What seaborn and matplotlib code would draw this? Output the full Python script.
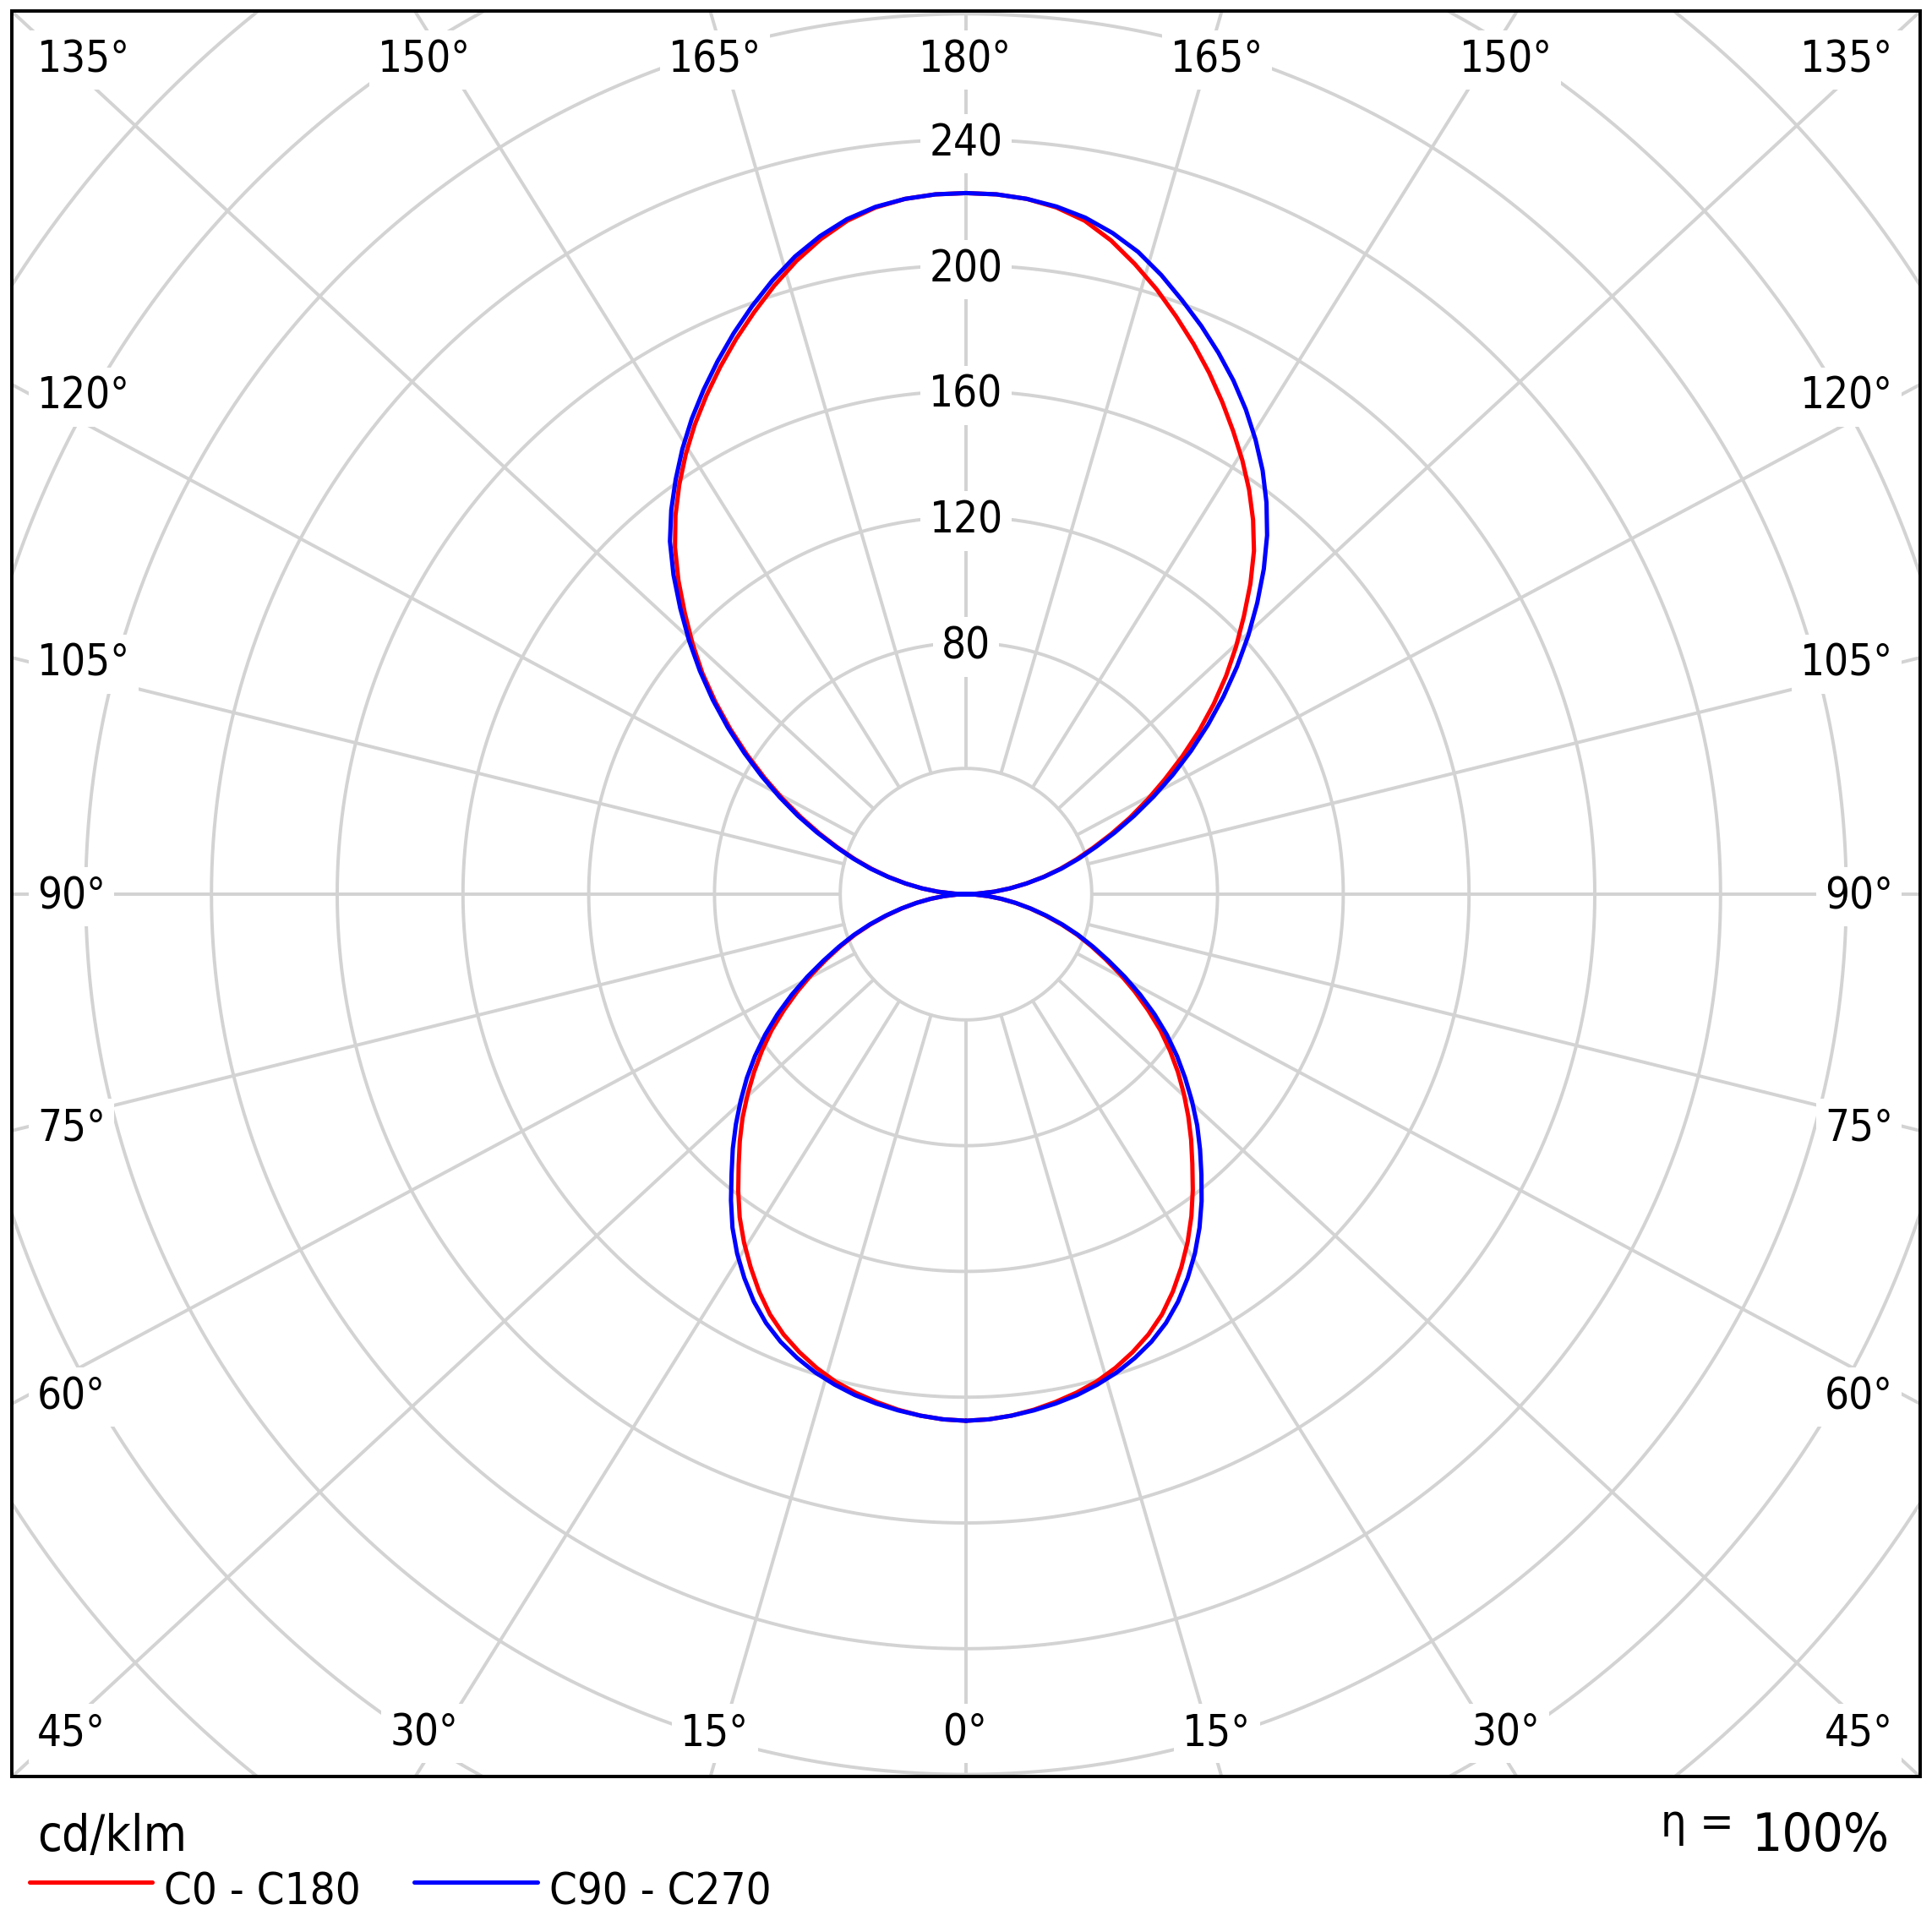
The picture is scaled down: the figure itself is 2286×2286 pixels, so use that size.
import numpy as np
import pandas as pd
import matplotlib.pyplot as plt
from matplotlib.patches import Rectangle
from matplotlib.lines import Line2D
from matplotlib import transforms
import seaborn as sns

sns.set_style('white')
plt.rcParams['font.family'] = ['DejaVu Sans']
plt.rcParams['font.stretch'] = 'condensed'
plt.rcParams['text.color'] = 'black'

# luminous intensity (cd/klm), gamma 0..180 in 2.5 degree steps
gamma = [i * 2.5 for i in range(73)]
c0 = [167.5, 167.2, 166.5, 165.4, 164, 162.4, 160.5, 158, 155, 151.6, 147.5, 142.5, 137, 131.2,
      125, 118.5, 112, 106, 100, 94, 88, 81.8, 75.5, 68.7, 62, 55.4, 49, 43.1, 37.5, 31.7,
      26, 20.8, 16, 11.3, 7, 3, 0,
      3.5, 9, 14.1, 19.5, 25.2, 31, 36.8, 43, 50, 57.5, 65.1, 73, 81.6, 90.5, 99.3, 108,
      116.5, 125, 133.9, 142.5, 150, 157, 163.6, 170, 176.5, 183, 189.3, 195.5, 201.7,
      207.5, 213, 217.5, 220.3, 222, 222.8, 223]
c180 = [167.5, 167.2, 166.5, 165.4, 164, 162.4, 160.5, 158, 155, 151.6, 147.5, 142.5, 137, 131.4,
        125.5, 119, 112.5, 106.5, 100.5, 94.2, 88, 81.8, 75.5, 68.7, 62, 55.4, 49, 43.1, 37.5, 31.7,
        26, 20.8, 16, 11.3, 7, 3, 0,
        3.5, 9, 14.1, 19.5, 25.1, 31, 37.1, 43.5, 50.5, 58, 65.8, 74, 82.6, 91.5, 100.5, 109.5,
        118, 126.5, 135.4, 144, 151.8, 159, 165.9, 172.5, 178.8, 185, 191.1, 197, 202.9,
        208.5, 213.4, 217.5, 220.3, 222, 222.8, 223]
c90 = [167.5, 167.2, 166.5, 165.6, 164.5, 163.2, 161.5, 159.5, 157, 154.1, 150.5, 146.1, 141, 135.5,
       129.5, 123.1, 116.5, 110.2, 104, 97.5, 91, 84.6, 78, 71.1, 64, 56.9, 50, 43.8, 38, 32.2,
       26.5, 21.1, 16, 11.3, 7, 3, 0,
       3.5, 9, 14.1, 19.5, 25.4, 31.5, 37.6, 44, 51.2, 59, 67.3, 76, 84.9, 94, 103.2, 112.5,
       121.8, 131, 140.2, 149, 157, 164.5, 171.4, 178, 184.2, 190, 195.6, 201, 206.5,
       211.5, 215.4, 218.5, 220.6, 222, 222.8, 223]
c270 = [167.5, 167.2, 166.5, 165.6, 164.5, 163.2, 161.5, 159.5, 157, 154.1, 150.5, 146.1, 141, 135.5,
        129.5, 122.8, 116, 109.8, 103.5, 97.2, 91, 84.6, 78, 71.1, 64, 56.9, 50, 43.8, 38, 32.2,
        26.5, 21.1, 16, 11.3, 7, 3, 0,
        3.5, 9, 14.1, 19.5, 25.4, 31.5, 37.6, 44, 51.3, 59, 66.8, 75, 83.6, 92.5, 101.5, 110.5,
        119.5, 128.5, 137.7, 146.5, 154, 161, 167.9, 174.5, 180.8, 187, 193.1, 199, 204.7,
        210, 214.4, 218, 220.5, 222, 222.8, 223]
planes = ['C0 - C180', 'C90 - C270']
colors = ['#ff0000', '#0000ff']

ring_values = [40, 80, 120, 160, 200, 240, 280, 320, 360]
ring_labels = [80, 120, 160, 200, 240]
grid_angles = list(range(0, 181, 15))

top_labels = ['135°', '150°', '165°', '180°', '165°', '150°', '135°']
bottom_labels = ['45°', '30°', '15°', '0°', '15°', '30°', '45°']
side_labels = ['120°', '105°', '90°', '75°', '60°']

# layout in pixels of the 2286 x 2286 output
W = H = 2286
left, top, right, bottom = 14, 13, 2272, 2102
cx, cy = 1143, 1058
px_unit = 3.72
r_max = 440
grid_color = '#d3d3d3'


def fx(x):
    return x / W


def fy(y):
    return 1 - y / H


fig = plt.figure(figsize=(10, 10), dpi=228.6)
rad = r_max * px_unit
ax = fig.add_axes([fx(cx - rad), fy(cy + rad), 2 * rad / W, 2 * rad / H], projection='polar')
ax.set_theta_zero_location('S')
ax.set_theta_direction(1)
ax.patch.set_visible(False)
for sp in ax.spines.values():
    sp.set_visible(False)

clip = Rectangle((fx(left), fy(bottom)), (right - left) / W, (bottom - top) / H,
                 transform=fig.transFigure)

# rings
t = np.linspace(0, 2 * np.pi, 1441)
for r in ring_values:
    ax.plot(t, np.full_like(t, r), color=grid_color, lw=1.25, zorder=1)

# radial lines (stretched toward the frame corners like the original)
half_w = (right - left) / 2
half_h = (bottom - top) / 2
for g in grid_angles:
    g_r = np.radians(g)
    a = np.arctan2(np.sin(g_r) * half_w, np.cos(g_r) * half_h)
    for th in {round(a, 9), round(2 * np.pi - a, 9) % (2 * np.pi)}:
        ax.plot([th, th], [40, r_max], color=grid_color, lw=1.25, zorder=1)

# curves: right half C0 / C90, left half C180 / C270
rows = []
for name, rside, lside in [(planes[0], c0, c180), (planes[1], c90, c270)]:
    for g, v in zip(gamma, rside):
        rows.append((np.radians(g), v, name))
    for g, v in zip(gamma[::-1], lside[::-1]):
        rows.append((np.radians(360 - g), v, name))
df = pd.DataFrame(rows, columns=['theta', 'cd', 'plane'])

sns.lineplot(data=df, x='theta', y='cd', hue='plane', hue_order=planes, palette=colors,
             sort=False, estimator=None, linewidth=1.6, legend=False, ax=ax, zorder=4)

ax.set_ylim(0, r_max)
ax.set_xticks([])
ax.set_yticks([])
ax.set_xlabel('')
ax.set_ylabel('')
ax.grid(False)
for ln in ax.lines:
    ln.set_clip_path(clip)

box = dict(boxstyle='square,pad=0.2', fc='white', ec='none')

off = transforms.offset_copy(ax.transData, fig=fig, x=0, y=-5, units='dots')
for r in ring_labels:
    ax.text(np.pi, r, str(r), transform=off, ha='center', va='center',
            fontsize=16, bbox=box, zorder=3)

# angle labels around the frame
row_x = [44, 502, 846, 1142, 1440, 1782, 2240]
row_ha = ['left', 'center', 'center', 'center', 'center', 'center', 'right']
for s, x, ha in zip(top_labels, row_x, row_ha):
    fig.text(fx(x), fy(85), s, ha=ha, va='baseline', fontsize=16, bbox=box)
for s, x, ha in zip(bottom_labels, row_x, row_ha):
    fig.text(fx(x), fy(2065), s, ha=ha, va='baseline', fontsize=16, bbox=box)
side_y = [484, 800, 1075, 1349, 1667]
for s, y in zip(side_labels, side_y):
    fig.text(fx(44), fy(y), s, ha='left', va='baseline', fontsize=16, bbox=box)
    fig.text(fx(2240), fy(y), s, ha='right', va='baseline', fontsize=16, bbox=box)

fig.add_artist(Rectangle((fx(left), fy(bottom)), (right - left) / W, (bottom - top) / H,
                         fill=False, ec='black', lw=1.25, transform=fig.transFigure, zorder=10))

# footer: unit, legend, efficiency
fig.text(fx(44), fy(2190), 'cd/klm', ha='left', va='baseline', fontsize=18.5)
fig.add_artist(Line2D([fx(35), fx(180)], [fy(2227)] * 2, color=colors[0], lw=1.6,
                      transform=fig.transFigure))
fig.text(fx(194), fy(2253), planes[0], ha='left', va='baseline', fontsize=16.5)
fig.add_artist(Line2D([fx(490), fx(636)], [fy(2227)] * 2, color=colors[1], lw=1.6,
                      transform=fig.transFigure))
fig.text(fx(650), fy(2253), planes[1], ha='left', va='baseline', fontsize=16.5)
fig.text(fx(2052), fy(2173), 'η =', ha='right', va='baseline', fontsize=17)
fig.text(fx(2236), fy(2190), '100%', ha='right', va='baseline', fontsize=20)

fig.savefig('out.png', dpi=228.6, facecolor='white')
